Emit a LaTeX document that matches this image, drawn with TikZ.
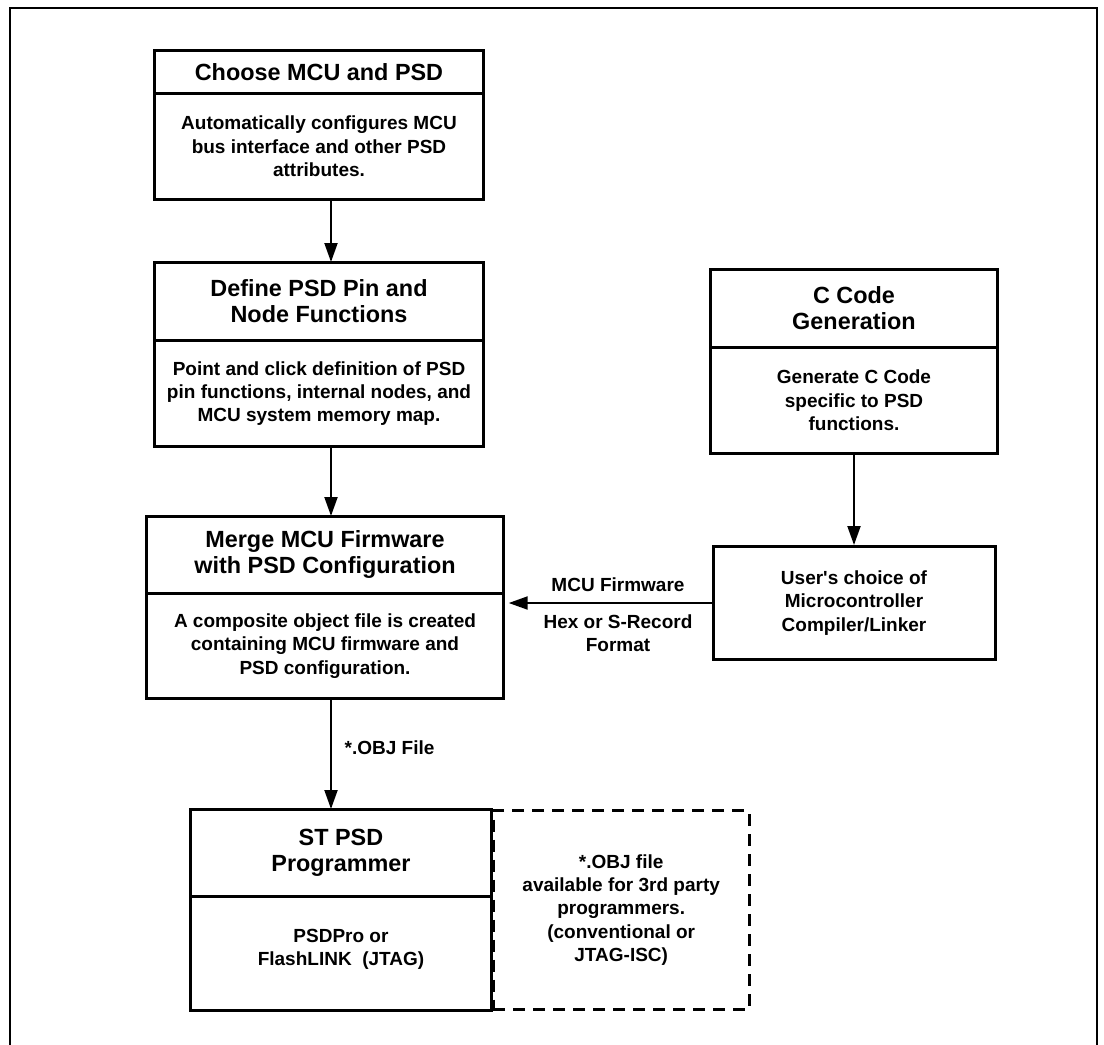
\documentclass[tikz,border=0pt]{standalone}
\usepackage{fontspec}
\setmainfont{Liberation Sans}
\usetikzlibrary{positioning,arrows.meta}

\begin{document}
\begin{tikzpicture}[x=0.5pt, y=-0.5pt, >={Triangle[length=9.5pt,width=6.5pt]}, line width=1pt,
    part/.style={draw, line width=0.7pt, align=center, inner sep=2pt},
    head/.style={part, font=\bfseries\fontsize{11.7}{13}\selectfont},
    body/.style={part, minimum height=52.5pt, font=\bfseries\fontsize{9.5}{11.7}\selectfont},
    box/.style={line width=1.5pt},
    lbl/.style={font=\bfseries\fontsize{9.5}{11.7}\selectfont, align=center}]

  \useasboundingbox (0,0) rectangle (1104,1045);
  \draw[line width=0.8pt] (10,1045) -- (10,8) -- (1097,8) -- (1097,1045);
  \coordinate (spine) at (331,0);

  % left column
  \node[head, minimum width=164pt, minimum height=21pt, anchor=north] (choose-t) at (319,50) {Choose MCU and PSD};
  \node[body, minimum width=164pt, below=0pt of choose-t] (choose-b) {Automatically configures MCU\\bus interface and other PSD\\attributes.};

  \node[head, minimum width=164pt, minimum height=38.5pt, anchor=north] (define-t) at (319,262) {Define PSD Pin and\\Node Functions};
  \node[body, minimum width=164pt, below=0pt of define-t] (define-b) {Point and click definition of PSD\\pin functions, internal nodes, and\\MCU system memory map.};

  \node[head, minimum width=178pt, minimum height=38pt, anchor=north] (merge-t) at (325,516) {Merge MCU Firmware\\with PSD Configuration};
  \node[body, minimum width=178pt, minimum height=52pt, below=0pt of merge-t] (merge-b) {A composite object file is created\\containing MCU firmware and\\PSD configuration.};

  \node[head, minimum width=150pt, minimum height=43pt, anchor=north] (prog-t) at (341,809) {ST PSD\\Programmer};
  \node[body, minimum width=150pt, minimum height=56.5pt, below=0pt of prog-t] (prog-b) {PSDPro or\\FlashLINK\ \ (JTAG)\\[-5.7pt]};
  \node[draw, box, dash pattern=on 6pt off 4pt, lbl, minimum width=128pt, minimum height=99.5pt,
        below right=0pt and 0pt of prog-t.north east] (third) {*.OBJ file\\available for 3rd party\\programmers.\\(conventional or\\JTAG-ISC)};

  % right column
  \node[head, minimum width=143pt, minimum height=38.5pt, anchor=north] (code-t) at (854,269) {C Code\\Generation};
  \node[body, minimum width=143pt, below=0pt of code-t] (code-b) {Generate C Code\\specific to PSD\\functions.};

  \node[part, box, lbl, minimum width=141pt, minimum height=56.5pt, anchor=north] (compiler) at (854,545) {User\textquotesingle s choice of\\Microcontroller\\Compiler/Linker};

  \foreach \n in {choose,define,merge,prog,code}
    \draw[box] (\n-t.north west) rectangle (\n-b.south east);

  \path[->] (choose-b.south -| spine) edge (define-t.north -| spine);
  \path[->] (define-b.south -| spine) edge (merge-t.north -| spine);
  \path[->] (merge-b.south -| spine) edge node[lbl, right=3pt, pos=0.44] {*.OBJ File} (prog-t.north -| spine);
  \path[->] (code-b.south) edge (compiler.north);
  \path[->] (compiler.west) edge[shorten >=2.5pt]
      node[lbl, above=2pt, pos=0.45] {MCU Firmware}
      node[lbl, below=2pt, pos=0.45] {Hex or S-Record\\Format} (compiler.west -| merge-b.east);
\end{tikzpicture}
\end{document}
